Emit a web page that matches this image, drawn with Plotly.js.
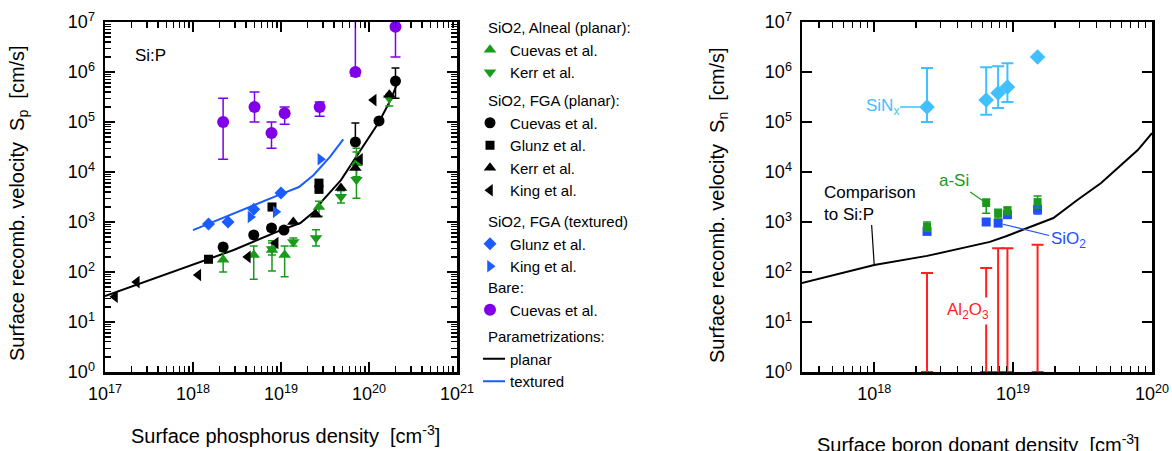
<!DOCTYPE html>
<html><head><meta charset="utf-8">
<script src="https://cdn.plot.ly/plotly-3.0.1.min.js"></script>
<style>html,body{margin:0;padding:0;background:#fff}#chart{width:1172px;height:451px}</style>
</head><body><div id="chart"></div>
<script>
// ---------- LEFT PANEL: Si:P ----------
// SiO2, Alneal (planar)
const alCuevasN = [2.2e18, 4.9e18, 7.9e18, 1.1e19, 2.7e19, 7.2e19];
const alCuevasS = [175, 220, 275, 220, 2000, 1.5e4];
const alCuevasHi = [260, 330, 420, 330, 2600, 3.0e4];
const alCuevasLo = [100, 72, 105, 80, 1300, 8000];
const alKerrN = [7.9e18, 1.38e19, 2.5e19, 4.8e19, 7.2e19, 1.7e20];
const alKerrS = [290, 400, 480, 3200, 7000, 3.0e5];
const alKerrHi = [380, 480, 700, 4200, 2.5e4, 3.6e5];
const alKerrLo = [220, 330, 330, 2400, 3000, 2.1e5];
// SiO2, FGA (planar)
const fgCuevasN = [2.2e18, 4.9e18, 7.8e18, 1.08e19, 7.0e19, 1.3e20, 2.0e20];
const fgCuevasS = [316, 550, 760, 690, 4.0e4, 1.05e5, 6.6e5];
const fgCuevasHi = [370, 640, 870, 800, 9.5e4, 1.2e5, 1.2e6];
const fgCuevasLo = [270, 470, 660, 600, 3.4e4, 9.0e4, 3.0e5];
const fgGlunzN = [1.5e18, 7.9e18, 2.7e19, 2.7e19];
const fgGlunzS = [180, 2000, 4500, 6000];
const fgGlunzHi = [210, 2300, 5200, 7000];
const fgGlunzLo = [155, 1700, 3900, 5200];
const fgKerrN = [1.38e19, 2.5e19, 4.8e19, 7.0e19, 1.7e20];
const fgKerrS = [1000, 1400, 4800, 1.2e4, 3.5e5];
const fgKingN = [1.3e17, 2.3e17, 1.15e18, 4.2e18, 8.7e18, 7.9e19, 1.13e20];
const fgKingS = [32, 63, 87, 200, 380, 1.8e4, 2.75e5];
// SiO2, FGA (textured)
const txGlunzN = [1.5e18, 2.5e18, 4.9e18, 1.0e19];
const txGlunzS = [910, 1000, 1800, 3800];
const txKingN = [4.5e18, 8.7e18, 2.8e19];
const txKingS = [1260, 1600, 1.8e4];
// Bare
const bareN = [2.2e18, 5.0e18, 7.8e18, 1.1e19, 2.75e19, 7.0e19, 2.0e20];
const bareS = [1.0e5, 2.0e5, 6.0e4, 1.5e5, 2.0e5, 1.0e6, 8.0e6];
const bareHi = [3.0e5, 4.0e5, 1.0e5, 2.0e5, 2.5e5, 1.0e8, 3.0e7];
const bareLo = [1.8e4, 1.0e5, 3.0e4, 9.0e4, 1.3e5, 8.3e5, 2.0e6];
// Parametrizations
const planarN = [1e17, 1.2e18, 2.9e18, 1.0e19, 1.66e19, 2.35e19, 3.0e19, 4.8e19, 7.1e19, 1.3e20, 1.8e20, 2.2e20];
const planarS = [33, 158, 275, 690, 955, 1585, 2750, 6900, 2.0e4, 1.0e5, 3.0e5, 7.5e5];
const texturedN = [1.0e18, 2.9e18, 1.0e19, 1.6e19, 2.35e19, 3.6e19, 5.1e19];
const texturedS = [690, 1500, 3600, 5000, 8700, 2.0e4, 4.5e4];

// ---------- RIGHT PANEL: Si:B ----------
const bN = [2.4e18, 6.4e18, 7.8e18, 9.1e18, 1.5e19];
const sinxS = [2.0e5, 2.75e5, 3.8e5, 5.0e5, 2.0e6];
const sinxHi = [1.2e6, 1.25e6, 1.3e6, 1.5e6, 2.0e6];
const sinxLo = [1.0e5, 1.4e5, 1.9e5, 2.5e5, 2.0e6];
const aSiS = [800, 2400, 1500, 1700, 2500];
const aSiHi = [1000, 2900, 1800, 2000, 3300];
const aSiLo = [650, 1500, 1200, 1400, 1900];
const sio2S = [650, 1000, 950, 1400, 1800];
const sio2Hi = [750, 1150, 1100, 1600, 2100];
const sio2Lo = [560, 870, 820, 1200, 1450];
const al2o3Base = [1, 1, 1, 1, 1];
const al2o3Upper = [95, 120, 300, 300, 350];
const compN = [3e17, 1e18, 2.4e18, 6.8e18, 9e18, 1.95e19, 2.9e19, 4.3e19, 7.9e19, 1e20];
const compS = [60, 138, 210, 400, 525, 1200, 2750, 6000, 2.75e4, 6.0e4];

const xTickVals1 = [1e17, 1e18, 1e19, 1e20, 1e21];
const xTickText1 = ['10<sup>17</sup>', '10<sup>18</sup>', '10<sup>19</sup>', '10<sup>20</sup>', '10<sup>21</sup>'];
const xTickVals2 = [1e18, 1e19, 1e20];
const xTickText2 = ['10<sup>18</sup>', '10<sup>19</sup>', '10<sup>20</sup>'];
const yTickVals = [1, 10, 100, 1e3, 1e4, 1e5, 1e6, 1e7];
const yTickText = ['10<sup>0</sup>', '10<sup>1</sup>', '10<sup>2</sup>', '10<sup>3</sup>', '10<sup>4</sup>', '10<sup>5</sup>', '10<sup>6</sup>', '10<sup>7</sup>'];

function minorVals(d0, d1) { const out = []; for (let d = d0; d < d1; d++) for (let k = 2; k <= 9; k++) out.push(k * Math.pow(10, d)); return out; }
function errs(v, hi, lo, w) {
  return {type: 'data', symmetric: false, array: hi.map((h, i) => h - v[i]), arrayminus: lo.map((l, i) => v[i] - l),
          thickness: 1.5, width: w || 4};
}

const W = 1172, H = 451;
const px = x => x / W, py = y => 1 - y / H;
const GREEN = '#1a9a1a', BLUE = '#1a5cff', PURPLE = '#7f00e8', LBLUE = '#40c0ff', RED = '#ff1f1f', SBLUE = '#1f4fff';

const traces = [
  {x: planarN, y: planarS, mode: 'lines', line: {color: '#000', width: 2}, name: 'planar', legend: 'legend5', legendgroup: 'g5', legendrank: 10,
   legendgrouptitle: {text: 'Parametrizations:'}, xaxis: 'x', yaxis: 'y'},
  {x: texturedN, y: texturedS, mode: 'lines', line: {color: BLUE, width: 2}, name: 'textured', legend: 'legend5', legendgroup: 'g5', legendrank: 11, xaxis: 'x', yaxis: 'y'},
  {x: alCuevasN, y: alCuevasS, mode: 'markers', marker: {symbol: 'triangle-up', size: 11, color: GREEN}, error_y: Object.assign(errs(alCuevasS, alCuevasHi, alCuevasLo), {color: GREEN}),
   name: 'Cuevas et al.', legend: 'legend', legendgroup: 'g1', legendrank: 1, legendgrouptitle: {text: 'SiO2, Alneal (planar):'}, xaxis: 'x', yaxis: 'y'},
  {x: alKerrN, y: alKerrS, mode: 'markers', marker: {symbol: 'triangle-down', size: 11, color: GREEN}, error_y: Object.assign(errs(alKerrS, alKerrHi, alKerrLo), {color: GREEN}),
   name: 'Kerr et al.', legend: 'legend', legendgroup: 'g1', legendrank: 2, xaxis: 'x', yaxis: 'y'},
  {x: fgGlunzN, y: fgGlunzS, mode: 'markers', marker: {symbol: 'square', size: 9, color: '#000'}, error_y: Object.assign(errs(fgGlunzS, fgGlunzHi, fgGlunzLo), {color: '#000'}),
   name: 'Glunz et al.', legend: 'legend2', legendgroup: 'g2', legendrank: 4, xaxis: 'x', yaxis: 'y'},
  {x: fgKerrN, y: fgKerrS, mode: 'markers', marker: {symbol: 'triangle-up', size: 11, color: '#000'},
   name: 'Kerr et al.', legend: 'legend2', legendgroup: 'g2', legendrank: 5, xaxis: 'x', yaxis: 'y'},
  {x: fgKingN, y: fgKingS, mode: 'markers', marker: {symbol: 'triangle-left', size: 11, color: '#000'},
   name: 'King et al.', legend: 'legend2', legendgroup: 'g2', legendrank: 6, xaxis: 'x', yaxis: 'y'},
  {x: fgCuevasN, y: fgCuevasS, mode: 'markers', marker: {symbol: 'circle', size: 11, color: '#000'}, error_y: Object.assign(errs(fgCuevasS, fgCuevasHi, fgCuevasLo), {color: '#000'}),
   name: 'Cuevas et al.', legend: 'legend2', legendgroup: 'g2', legendrank: 3, legendgrouptitle: {text: 'SiO2, FGA (planar):'}, xaxis: 'x', yaxis: 'y'},
  {x: txGlunzN, y: txGlunzS, mode: 'markers', marker: {symbol: 'diamond', size: 10, color: BLUE},
   name: 'Glunz et al.', legend: 'legend3', legendgroup: 'g3', legendrank: 7, legendgrouptitle: {text: 'SiO2, FGA (textured)'}, xaxis: 'x', yaxis: 'y'},
  {x: txKingN, y: txKingS, mode: 'markers', marker: {symbol: 'triangle-right', size: 11, color: BLUE},
   name: 'King et al.', legend: 'legend3', legendgroup: 'g3', legendrank: 8, xaxis: 'x', yaxis: 'y'},
  {x: bareN, y: bareS, mode: 'markers', marker: {symbol: 'circle', size: 12, color: PURPLE}, error_y: Object.assign(errs(bareS, bareHi, bareLo, 5), {color: PURPLE}),
   name: 'Cuevas et al.', legend: 'legend4', legendgroup: 'g4', legendrank: 9, legendgrouptitle: {text: 'Bare:'}, xaxis: 'x', yaxis: 'y'},
  // right panel
  {x: compN, y: compS, mode: 'lines', line: {color: '#000', width: 2}, showlegend: false, xaxis: 'x2', yaxis: 'y2'},
  {x: bN, y: al2o3Base, mode: 'markers', marker: {size: 1, opacity: 0}, error_y: Object.assign(errs(al2o3Base, al2o3Upper, al2o3Base, 6), {color: RED, thickness: 2}),
   showlegend: false, xaxis: 'x2', yaxis: 'y2'},
  {x: bN, y: sio2S, mode: 'markers', marker: {symbol: 'square', size: 9, color: SBLUE}, error_y: Object.assign(errs(sio2S, sio2Hi, sio2Lo), {color: SBLUE}),
   showlegend: false, xaxis: 'x2', yaxis: 'y2'},
  {x: bN, y: aSiS, mode: 'markers', marker: {symbol: 'square', size: 8, color: GREEN}, error_y: Object.assign(errs(aSiS, aSiHi, aSiLo), {color: GREEN}),
   showlegend: false, xaxis: 'x2', yaxis: 'y2'},
  {x: bN, y: sinxS, mode: 'markers', marker: {symbol: 'diamond', size: 12, color: LBLUE}, error_y: Object.assign(errs(sinxS, sinxHi, sinxLo, 6), {color: LBLUE, thickness: 2}),
   showlegend: false, xaxis: 'x2', yaxis: 'y2'}
];

const axCommon = {type: 'log', showline: true, linecolor: '#000', linewidth: 2.5, mirror: 'allticks', ticks: 'inside',
  ticklen: 10, tickwidth: 1.5, tickcolor: '#000', tickmode: 'array', showgrid: false, zeroline: false,
  tickfont: {size: 18, color: '#000'}, ticklabelstandoff: 4, fixedrange: true};
const F = 'Arial, "Liberation Sans", sans-serif';

function mkLegend(topY) {
  return {x: px(483), xanchor: 'left', y: py(topY), yanchor: 'top', bgcolor: 'rgba(0,0,0,0)', font: {size: 15, color: '#000'},
    traceorder: 'grouped', tracegroupgap: 0, indentation: -13, itemclick: false, itemdoubleclick: false,
    grouptitlefont: {size: 15, color: '#000'}};
}

const layout = {
  width: W, height: H, margin: {l: 0, r: 0, t: 0, b: 0}, paper_bgcolor: '#fff', plot_bgcolor: '#fff',
  font: {family: F, color: '#000'}, showlegend: true, hovermode: false,
  xaxis: Object.assign({}, axCommon, {range: [17, 21], domain: [px(105), px(457)], anchor: 'y', tickvals: xTickVals1, ticktext: xTickText1,
    minor: {ticks: 'inside', ticklen: 6, tickwidth: 1.2, tickcolor: '#000', tickvals: minorVals(17, 21), showgrid: false}}),
  yaxis: Object.assign({}, axCommon, {range: [0, 7], domain: [py(372), py(22)], anchor: 'x', tickvals: yTickVals, ticktext: yTickText,
    minor: {ticks: 'inside', ticklen: 6, tickwidth: 1.2, tickcolor: '#000', tickvals: minorVals(0, 7), showgrid: false}}),
  xaxis2: Object.assign({}, axCommon, {range: [17.48, 20], domain: [px(802), px(1152)], anchor: 'y2', tickvals: xTickVals2, ticktext: xTickText2,
    minor: {ticks: 'inside', ticklen: 6, tickwidth: 1.2, tickcolor: '#000', tickvals: minorVals(17, 20), showgrid: false}}),
  yaxis2: Object.assign({}, axCommon, {range: [0, 7], domain: [py(372), py(22)], anchor: 'x2', tickvals: yTickVals, ticktext: yTickText}),
  legend: mkLegend(11),
  legend2: mkLegend(84),
  legend3: mkLegend(205),
  legend4: mkLegend(271),
  legend5: mkLegend(320),
  annotations: [
    {xref: 'paper', yref: 'paper', x: px(18), y: py(203), text: 'Surface recomb. velocity\u00a0 S<sub>p</sub>\u00a0 [cm/s]', textangle: -90,
     showarrow: false, font: {size: 20}, xanchor: 'center', yanchor: 'middle'},
    {xref: 'paper', yref: 'paper', x: px(285), y: py(434), text: 'Surface phosphorus density\u00a0 [cm<sup>-3</sup>]',
     showarrow: false, font: {size: 20}, xanchor: 'center', yanchor: 'middle'},
    {xref: 'paper', yref: 'paper', x: px(718), y: py(205), text: 'Surface recomb. velocity\u00a0 S<sub>n</sub>\u00a0 [cm/s]', textangle: -90,
     showarrow: false, font: {size: 20}, xanchor: 'center', yanchor: 'middle'},
    {xref: 'paper', yref: 'paper', x: px(978), y: py(443), text: 'Surface boron dopant density\u00a0 [cm<sup>-3</sup>]',
     showarrow: false, font: {size: 20}, xanchor: 'center', yanchor: 'middle'},
    {xref: 'paper', yref: 'paper', x: px(150), y: py(55), text: 'Si:P', showarrow: false, font: {size: 17}, xanchor: 'center', yanchor: 'middle'},
    {xref: 'x2', yref: 'y2', x: Math.log10(bN[0]), y: Math.log10(sinxS[0]), text: 'SiN<sub>x</sub>', font: {size: 17, color: LBLUE},
     showarrow: true, arrowhead: 0, arrowwidth: 1.5, arrowcolor: LBLUE, ax: -45, ay: 0, standoff: 0},
    {xref: 'x2', yref: 'y2', x: Math.log10(bN[1]), y: Math.log10(aSiS[1]), text: 'a-Si', font: {size: 17, color: GREEN},
     showarrow: true, arrowhead: 0, arrowwidth: 1.2, arrowcolor: GREEN, ax: -32, ay: -22, standoff: 4},
    {xref: 'x2', yref: 'y2', x: Math.log10(compN[1]), y: Math.log10(compS[1]), text: 'Comparison<br>to Si:P', align: 'left', font: {size: 17, color: '#000'},
     showarrow: true, arrowhead: 0, arrowwidth: 1.2, arrowcolor: '#000', ax: -4, ay: -62, standoff: 0},
    {xref: 'x2', yref: 'y2', x: Math.log10(bN[2]), y: Math.log10(sio2S[2]), text: 'SiO<sub>2</sub>', font: {size: 17, color: SBLUE},
     showarrow: true, arrowhead: 0, arrowwidth: 1.2, arrowcolor: SBLUE, ax: 70, ay: 17, standoff: 5},
    {xref: 'paper', yref: 'paper', x: px(968), y: py(311), text: 'Al<sub>2</sub>O<sub>3</sub>', showarrow: false,
     font: {size: 17, color: RED}, bgcolor: '#fff', borderpad: 2, xanchor: 'center', yanchor: 'middle'}
  ]
};

Plotly.newPlot('chart', traces, layout, {staticPlot: true, displayModeBar: false});
</script></body></html>
